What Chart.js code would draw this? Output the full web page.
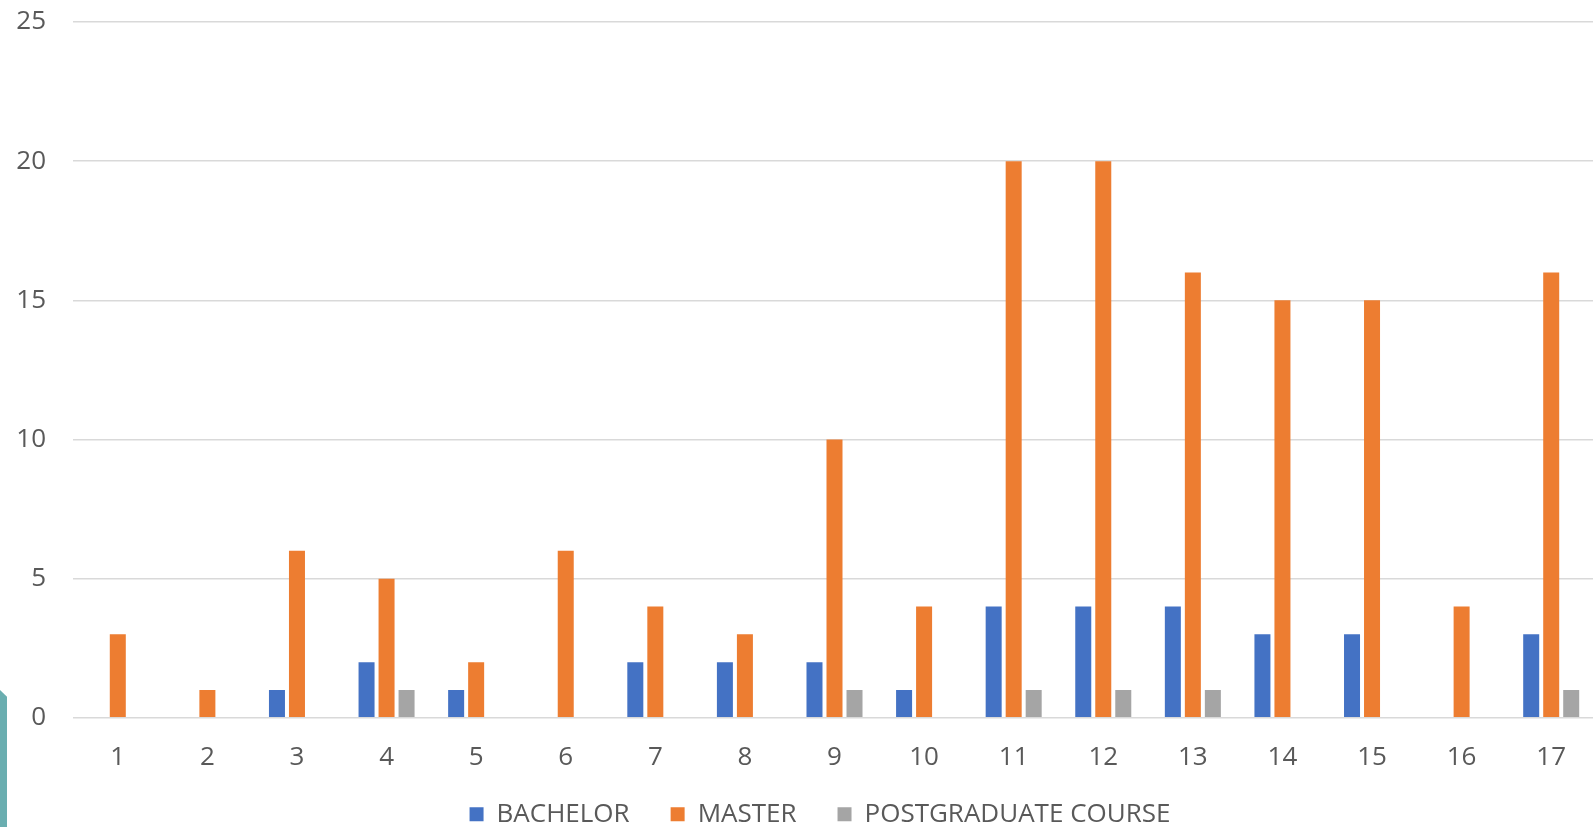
<!DOCTYPE html>
<html>
<head>
<meta charset="utf-8">
<script src="https://cdn.jsdelivr.net/npm/chart.js@4.4.1/dist/chart.umd.min.js"></script>
<style>
  html, body { margin: 0; padding: 0; background: #ffffff; overflow: hidden; width: 1593px; height: 827px; }
  #wrap { position: absolute; left: 0; top: 0; width: 1640px; height: 850px; }
  #deco { position: absolute; left: 0; top: 690px; width: 7px; height: 137px; background: #6aaeb0;
          clip-path: polygon(0 0, 100% 5%, 100% 100%, 0 100%); z-index: 2; }
</style>
</head>
<body>
<div id="wrap"><canvas id="c"></canvas></div>
<div id="deco"></div>
<script>
const categories = ['1','2','3','4','5','6','7','8','9','10','11','12','13','14','15','16','17'];
const bachelor = [0, 0, 1, 2, 1, 0, 2, 2, 2, 1, 4, 4, 4, 3, 3, 0, 3];
const master = [3, 1, 6, 5, 2, 6, 4, 3, 10, 4, 20, 20, 16, 15, 15, 4, 16];
const postgraduate = [0, 0, 0, 1, 0, 0, 0, 0, 1, 0, 1, 1, 1, 0, 0, 0, 1];
const seriesNames = ['BACHELOR', 'MASTER', 'POSTGRADUATE COURSE'];
const seriesColors = ['#4472C4', '#ED7D31', '#A5A5A5'];
const yMax = 25;
const yStep = 5;

const textColor = '#595959';
const fontFamily = "'Open Sans', 'Noto Sans', sans-serif";

// move the legend up so it sits just below the category labels
const legendShift = {
  id: 'legendShift',
  afterLayout(chart) {
    const lg = chart.legend;
    const h = lg.bottom - lg.top;
    lg.top = chart.chartArea.bottom + 42.5;
    lg.bottom = lg.top + h;
  }
};

new Chart(document.getElementById('c'), {
  type: 'bar',
  data: {
    labels: categories,
    datasets: [bachelor, master, postgraduate].map((d, i) => ({
      label: seriesNames[i],
      data: d,
      backgroundColor: seriesColors[i],
      borderWidth: 0,
      barPercentage: 0.8,
      categoryPercentage: 0.67
    }))
  },
  plugins: [legendShift],
  options: {
    responsive: true,
    maintainAspectRatio: false,
    animation: false,
    layout: { padding: { top: 22, left: 0, right: 0, bottom: 0 } },
    plugins: {
      tooltip: { enabled: false },
      legend: {
        position: 'bottom',
        labels: {
          boxWidth: 14,
          boxHeight: 14,
          padding: 41,
          color: textColor,
          font: { family: fontFamily, size: 26 }
        }
      }
    },
    scales: {
      x: {
        grid: { display: false, drawTicks: true, tickLength: 24, tickColor: 'rgba(0,0,0,0)' },
        border: { display: false },
        ticks: { color: textColor, padding: 0, font: { family: fontFamily, size: 26 }, maxRotation: 0 }
      },
      y: {
        min: 0,
        max: yMax,
        ticks: { stepSize: yStep, color: textColor, padding: 0, font: { family: fontFamily, size: 26 } },
        grid: { color: '#d9d9d9', lineWidth: 1.5, drawTicks: true, tickLength: 27, tickColor: 'rgba(0,0,0,0)' },
        border: { display: false },
        afterFit(s) { s.width = 73; }
      },
      yRight: {
        position: 'right',
        display: true,
        grid: { display: false, drawTicks: false },
        border: { display: false },
        ticks: { display: false },
        afterFit(s) { s.width = 44; }
      }
    }
  }
});
</script>
</body>
</html>
